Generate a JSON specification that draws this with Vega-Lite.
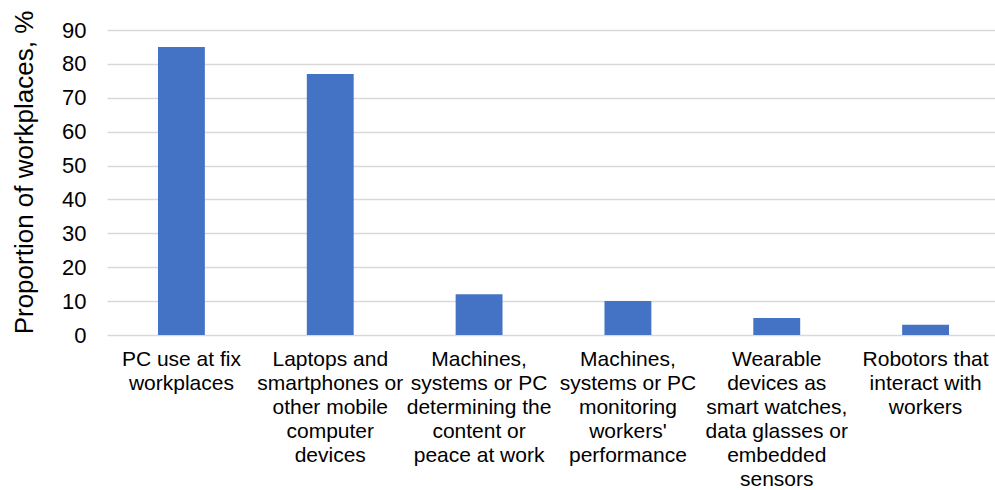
{
  "$schema": "https://vega.github.io/schema/vega-lite/v6.json",
  "width": 893,
  "height": 305,
  "autosize": {"type": "none"},
  "padding": {"left": 107, "top": 30, "right": 0, "bottom": 155},
  "background": "white",
  "config": {"view": {"stroke": null}, "font": "Liberation Sans"},
  "data": {
    "values": [
      {"category": "PC use at fix|workplaces", "value": 85},
      {"category": "Laptops and|smartphones or|other mobile|computer|devices", "value": 77},
      {"category": "Machines,|systems or PC|determining the|content or|peace at work", "value": 12},
      {"category": "Machines,|systems or PC|monitoring|workers'|performance", "value": 10},
      {"category": "Wearable|devices as|smart watches,|data glasses or|embedded|sensors", "value": 5},
      {"category": "Robotors that|interact with|workers", "value": 3}
    ]
  },
  "mark": {"type": "bar", "color": "#4472C4"},
  "encoding": {
    "x": {
      "field": "category",
      "type": "nominal",
      "sort": null,
      "scale": {"paddingInner": 0.685, "paddingOuter": 0.3425},
      "axis": {
        "title": null,
        "labelAngle": 0,
        "labelExpr": "split(datum.value, '|')",
        "labelFontSize": 21,
        "labelLineHeight": 24,
        "labelColor": "#000000",
        "labelPadding": 13,
        "labelLimit": 0,
        "labelBaseline": "top",
        "ticks": false,
        "domain": false
      }
    },
    "y": {
      "field": "value",
      "type": "quantitative",
      "scale": {"domain": [0, 90], "nice": false},
      "axis": {
        "title": "Proportion of workplaces, %",
        "titleFontSize": 26,
        "titleFontWeight": "normal",
        "titleColor": "#000000",
        "titlePadding": 24,
        "titleY": 142,
        "values": [0, 10, 20, 30, 40, 50, 60, 70, 80, 90],
        "labelFontSize": 22,
        "labelColor": "#000000",
        "labelPadding": 21,
        "ticks": false,
        "domain": false,
        "grid": true,
        "gridColor": "#D9D9D9",
        "gridWidth": 1.5
      }
    }
  }
}
